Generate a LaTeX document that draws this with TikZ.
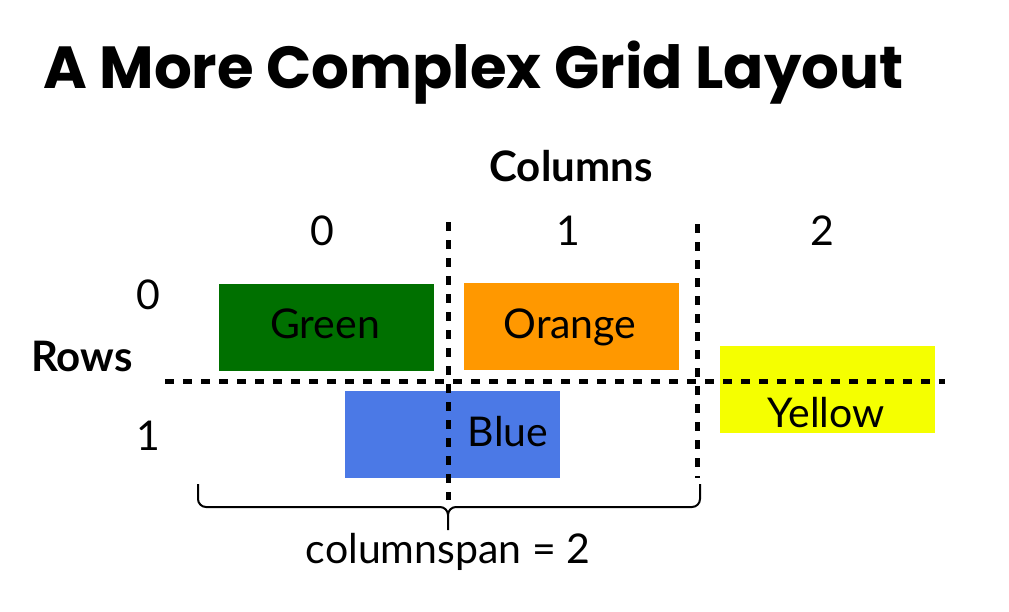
\documentclass[tikz,border=0pt]{standalone}
\usepackage{fontspec}
\setmainfont{Lato}
\newfontfamily\titlefont{Poppins}
\definecolor{cgreen}{RGB}{0,112,0}
\definecolor{corange}{RGB}{255,152,0}
\definecolor{cblue}{RGB}{75,121,230}
\definecolor{cyellow}{RGB}{245,255,0}
\begin{document}
\begin{tikzpicture}[x=1pt,y=-1pt,
  cell/.style={draw=none, minimum width=215pt, minimum height=87pt, inner sep=0pt, anchor=north west},
  lbl/.style={font=\fontsize{41}{48}\selectfont, inner sep=0pt, anchor=base},
  head/.style={font=\bfseries\fontsize{42}{48}\selectfont, inner sep=0pt, anchor=base},
  gridline/.style={line width=5pt, dash pattern=on 9pt off 9pt},
  bracket/.style={line width=2pt}]
\useasboundingbox (0,0) rectangle (1009,611);
\node[anchor=base west, inner sep=0pt, font=\titlefont\bfseries\fontsize{59.4}{70}\selectfont] (title) at (43,88) {A More Complex Grid Layout};
% boxes
\node[cell, fill=cgreen] (green) at (219,284) {};
\node[cell, fill=corange] (orange) at (464,283) {};
\node[cell, fill=cblue] (blue) at (345,391) {};
\node[cell, fill=cyellow] (yellow) at (720,346) {};
% grid lines
\coordinate (v1t) at (448,222); \coordinate (v1b) at (448,500);
\coordinate (v2t) at (697,224); \coordinate (v2b) at (697,478);
\coordinate (hl) at (165,381); \coordinate (hr) at (945,381);
\draw[gridline] (v1t) -- (v1b);
\draw[gridline] (v2t) -- (v2b);
\draw[gridline] (hl) -- (hr);
% labels
\node[lbl] (tgreen) at (325,338) {Green};
\node[lbl] (torange) at (570,338) {Orange};
\node[lbl] (tblue) at (508,446) {Blue};
\node[lbl] (tyellow) at (826,427) {Yellow};
\node[head] (columns) at (571,181) {Columns};
\node[head] (rows) at (82,371) {Rows};
\node[lbl] (c0) at (322,245) {0};
\node[lbl] (c1) at (568,245) {1};
\node[lbl] (c2) at (822,245) {2};
\node[lbl] (r0) at (148,309) {0};
\node[lbl] (r1) at (148,450) {1};
\node[lbl] (span) at (448,563) {columnspan = 2};
% brace
\coordinate (bl) at (198,484);
\coordinate (br) at (700,484);
\coordinate (bt) at (448,530);
\draw[bracket] (bl) -- (198,499) to[out=-90,in=180] (206,507) -- (440,507) to[out=0,in=90] (448,515) -- (bt);
\draw[bracket] (448,515) to[out=90,in=180] (456,507) -- (692,507) to[out=0,in=-90] (700,499) -- (br);
\end{tikzpicture}
\end{document}
